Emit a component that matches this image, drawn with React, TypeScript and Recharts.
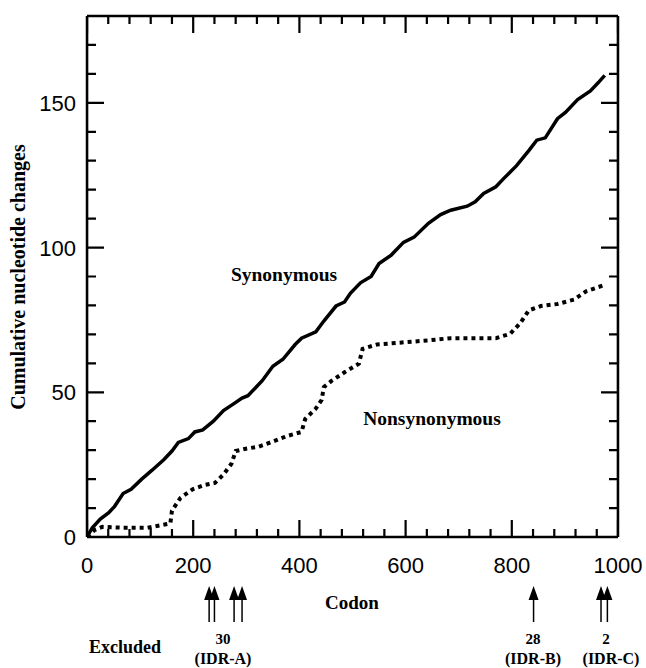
import React from 'react';
import { LineChart, Line, XAxis, YAxis, ReferenceLine } from 'recharts';

// codon position vs cumulative changes
const synCodon = [0, 10, 25, 41, 52, 68, 83, 103, 122, 145, 160, 172, 191, 203, 218, 238, 257, 276, 292, 303, 330, 350, 369, 392, 404, 431, 446, 469, 485, 496, 515, 535, 550, 573, 596, 616, 643, 666, 685, 716, 731, 747, 770, 785, 809, 832, 847, 863, 886, 901, 924, 948, 963, 975];
const synChanges = [0, 3.2, 6.2, 8.4, 10.6, 15, 16.5, 20, 23, 26.8, 29.7, 32.7, 34, 36.3, 37, 40, 43.7, 46, 48, 48.8, 54, 59, 61.4, 66.5, 68.7, 70.9, 74.6, 79.8, 81.2, 84.2, 87.8, 90, 94.5, 97.4, 101.8, 103.6, 108.4, 111.4, 112.9, 114.3, 115.8, 118.7, 121, 123.9, 128.3, 133.5, 137.1, 137.9, 144.5, 146.7, 151.1, 154.1, 157, 159.5];

const nonCodon = [0, 15, 29, 68, 114, 157, 160, 176, 199, 222, 241, 257, 272, 280, 299, 323, 346, 377, 404, 411, 431, 442, 446, 461, 485, 512, 519, 546, 593, 647, 685, 724, 770, 797, 816, 832, 855, 886, 917, 940, 975];
const nonChanges = [0, 2.5, 3.5, 3.2, 3.2, 4.7, 9.1, 13.5, 16.5, 18, 18.7, 21.6, 25.3, 29.7, 30.5, 31.2, 32.7, 34.9, 36.3, 40.8, 44.4, 47.4, 51.8, 54, 56.9, 59.9, 65, 66.5, 67.2, 68, 68.7, 68.7, 68.7, 70.2, 73.9, 78.3, 79.8, 80.5, 82, 84.9, 87.1];

const xTicks = [0, 40, 80, 120, 160, 200, 240, 280, 320, 360, 400, 440, 480, 520, 560, 600, 640, 680, 720, 760, 800, 840, 880, 920, 960, 1000];
const xLabels = [0, 200, 400, 600, 800, 1000];
const yTicks = [0, 10, 20, 30, 40, 50, 60, 70, 80, 90, 100, 110, 120, 130, 140, 150, 160, 170, 180];
const yLabels = [0, 50, 100, 150];

// excluded codons (arrows under the axis)
const excludedCodons = [230, 240, 277, 292, 841, 968, 980];

const X_MIN = 0;
const X_MAX = 1000;
const Y_MIN = 0;
const Y_MAX = 180;
// tick lengths in axis units (about 17px major / 8px minor)
const TICK_MAJOR_Y = 5.9;
const TICK_MINOR_Y = 2.8;
const TICK_MAJOR_X = 32;
const TICK_MINOR_X = 17;

const synData = synCodon.map((x, i) => ({ codon: x, changes: synChanges[i] }));
const nonData = nonCodon.map((x, i) => ({ codon: x, changes: nonChanges[i] }));

// inward tick marks drawn as "comb" paths along each side of the frame
const bottomComb = xTicks.flatMap((v) => {
    const len = xLabels.includes(v) ? TICK_MAJOR_Y : TICK_MINOR_Y;
    return [{ codon: v, changes: Y_MIN }, { codon: v, changes: Y_MIN + len }, { codon: v, changes: Y_MIN }];
});
const topComb = xTicks.flatMap((v) => {
    const len = xLabels.includes(v) ? TICK_MAJOR_Y : TICK_MINOR_Y;
    return [{ codon: v, changes: Y_MAX }, { codon: v, changes: Y_MAX - len }, { codon: v, changes: Y_MAX }];
});
const leftComb = yTicks.flatMap((v) => {
    const len = yLabels.includes(v) ? TICK_MAJOR_X : TICK_MINOR_X;
    return [{ codon: X_MIN, changes: v }, { codon: X_MIN + len, changes: v }, { codon: X_MIN, changes: v }];
});
const rightComb = yTicks.flatMap((v) => {
    const len = yLabels.includes(v) ? TICK_MAJOR_X : TICK_MINOR_X;
    return [{ codon: X_MAX, changes: v }, { codon: X_MAX - len, changes: v }, { codon: X_MAX, changes: v }];
});
const combs = [bottomComb, topComb, leftComb, rightComb];

const SANS = '"Liberation Sans", Arial, Helvetica, sans-serif';
const SERIF = '"Liberation Serif", "Times New Roman", serif';

const BottomLabel = (props: any) => {
    const { x, y, payload } = props;
    if (!xLabels.includes(payload.value)) return <g />;
    return (
        <text x={x} y={y + 36} textAnchor="middle" fontSize={22} fontFamily={SANS} fill="#000">
            {payload.value}
        </text>
    );
};

const LeftLabel = (props: any) => {
    const { x, y, payload } = props;
    if (!yLabels.includes(payload.value)) return <g />;
    return (
        <text x={x - 11} y={y + 8} textAnchor="end" fontSize={22} fontFamily={SANS} fill="#000">
            {payload.value}
        </text>
    );
};

const Arrow = (props: any) => {
    const { x1 } = props;
    return (
        <g>
            <polygon points={`${x1},586 ${x1 - 5},600 ${x1 + 5},600`} fill="#000" />
            <line x1={x1} x2={x1} y1={599} y2={622} stroke="#000" strokeWidth={1.5} />
        </g>
    );
};

export default function App() {
    return (
        <div style={{ position: 'absolute', left: 0, top: 0, width: 646, height: 668, background: '#fff' }}>
            <svg
                width={646}
                height={668}
                style={{ position: 'absolute', left: 0, top: 0 }}
                fontFamily={SERIF}
                fontWeight="bold"
                fill="#000"
            >
                <text x={18} y={277} transform="rotate(-90 18 277)" textAnchor="middle" dominantBaseline="central" fontSize={20}>
                    Cumulative nucleotide changes
                </text>
                <text x={352} y={602} textAnchor="middle" dominantBaseline="central" fontSize={19}>Codon</text>
                <text x={284} y={274} textAnchor="middle" dominantBaseline="central" fontSize={19.5}>Synonymous</text>
                <text x={432} y={418} textAnchor="middle" dominantBaseline="central" fontSize={19.5}>Nonsynonymous</text>
                <text x={125} y={647} textAnchor="middle" dominantBaseline="central" fontSize={18}>Excluded</text>
                <text x={223} y={639} textAnchor="middle" dominantBaseline="central" fontSize={15}>30</text>
                <text x={223} y={658} textAnchor="middle" dominantBaseline="central" fontSize={16}>(IDR-A)</text>
                <text x={533} y={639} textAnchor="middle" dominantBaseline="central" fontSize={15}>28</text>
                <text x={533} y={658} textAnchor="middle" dominantBaseline="central" fontSize={16}>(IDR-B)</text>
                <text x={606} y={639} textAnchor="middle" dominantBaseline="central" fontSize={15}>2</text>
                <text x={611} y={658} textAnchor="middle" dominantBaseline="central" fontSize={16}>(IDR-C)</text>
            </svg>
            <LineChart width={646} height={668} margin={{ top: 16, right: 28, bottom: 101, left: 0 }}>
                <XAxis
                    dataKey="codon"
                    type="number"
                    domain={[X_MIN, X_MAX]}
                    ticks={xTicks}
                    interval={0}
                    height={30}
                    tickSize={0}
                    tickMargin={0}
                    tickLine={false}
                    axisLine={{ stroke: '#000', strokeWidth: 2.5 }}
                    tick={<BottomLabel />}
                    allowDataOverflow
                />
                <YAxis
                    type="number"
                    domain={[Y_MIN, Y_MAX]}
                    ticks={yTicks}
                    interval={0}
                    width={87}
                    tickSize={0}
                    tickMargin={0}
                    tickLine={false}
                    axisLine={{ stroke: '#000', strokeWidth: 2.5 }}
                    tick={<LeftLabel />}
                    allowDataOverflow
                />
                <ReferenceLine x={X_MAX} stroke="#000" strokeWidth={2.5} />
                <ReferenceLine y={Y_MAX} stroke="#000" strokeWidth={2.5} />
                {combs.map((comb, i) => (
                    <Line
                        key={`comb${i}`}
                        data={comb}
                        dataKey="changes"
                        type="linear"
                        stroke="#000"
                        strokeWidth={2.2}
                        strokeLinejoin="miter"
                        dot={false}
                        activeDot={false}
                        legendType="none"
                        isAnimationActive={false}
                    />
                ))}
                <Line
                    data={synData}
                    dataKey="changes"
                    type="linear"
                    stroke="#000"
                    strokeWidth={3.5}
                    dot={false}
                    activeDot={false}
                    isAnimationActive={false}
                />
                <Line
                    data={nonData}
                    dataKey="changes"
                    type="linear"
                    stroke="#000"
                    strokeWidth={4}
                    strokeDasharray="4 4"
                    dot={false}
                    activeDot={false}
                    isAnimationActive={false}
                />
                {excludedCodons.map((c) => (
                    <ReferenceLine key={`ex${c}`} x={c} stroke="none" shape={<Arrow />} />
                ))}
            </LineChart>
        </div>
    );
}
